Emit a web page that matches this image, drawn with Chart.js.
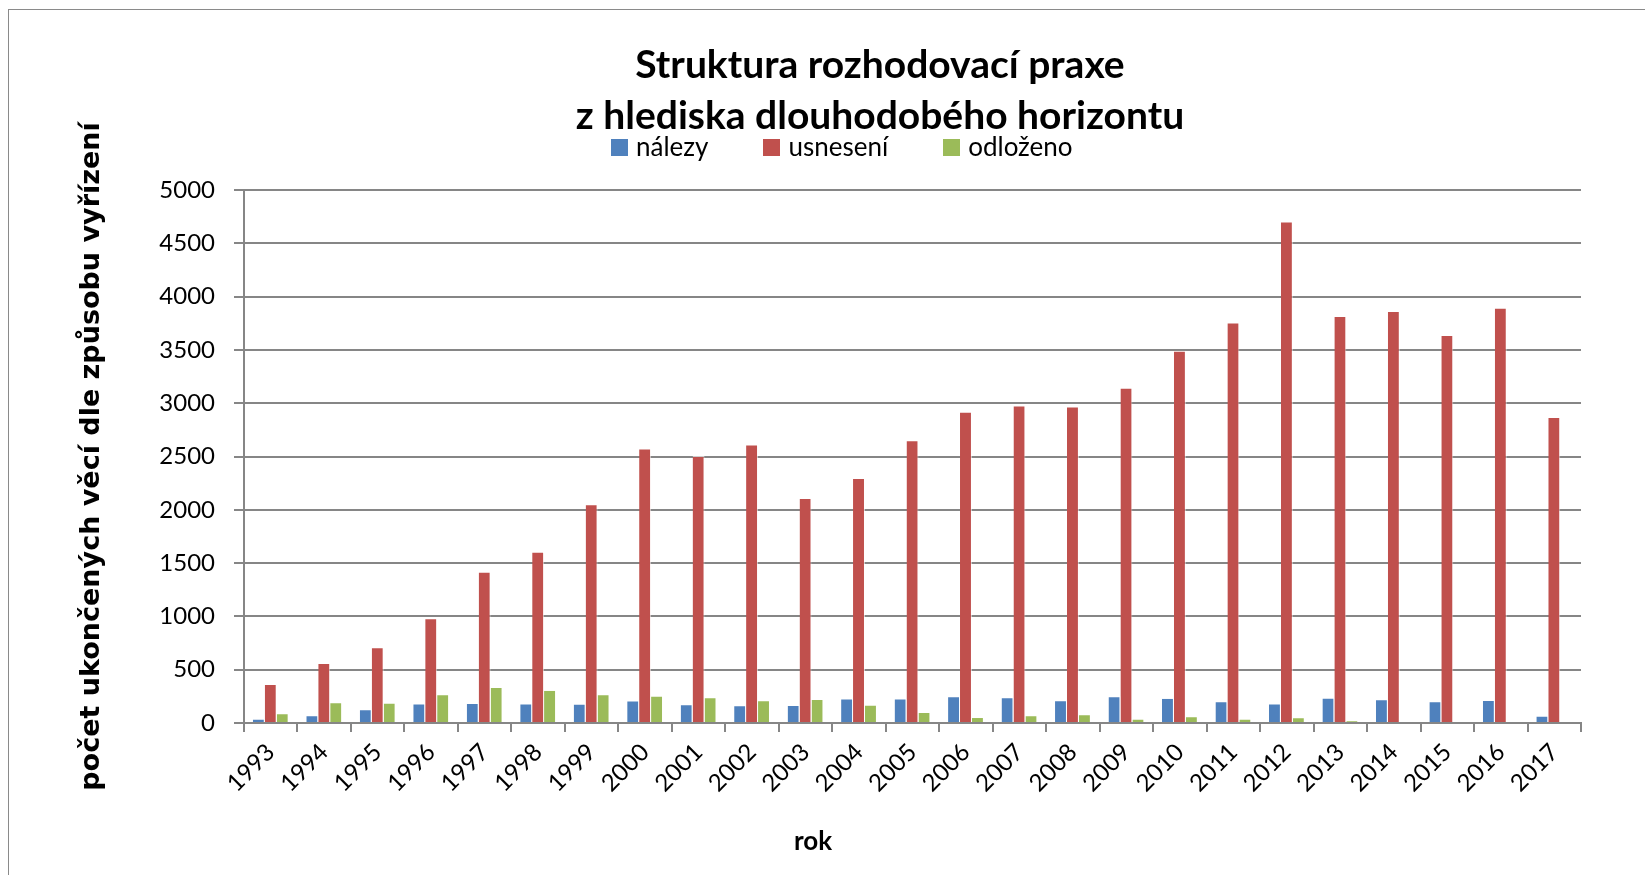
<!DOCTYPE html>
<html>
<head>
<meta charset="utf-8">
<script src="https://cdn.jsdelivr.net/npm/chart.js@4/dist/chart.umd.min.js"></script>
<style>
  html, body { margin: 0; padding: 0; background: #fff; overflow: hidden; }
  #wrap { position: relative; width: 1645px; height: 875px; font-family: Lato, "Open Sans", sans-serif; color: #000; }
  #frame { position: absolute; left: 8px; top: 9px; width: 1660px; height: 890px; border: 1px solid #8a8a8a; box-sizing: border-box; }
  canvas { position: absolute; left: 0; top: 0; }
  #title { position: absolute; left: 880px; top: 38px; transform: translateX(-50%); text-align: center; white-space: nowrap; font-size: 39px; font-weight: bold; line-height: 51px; }
  #legend { position: absolute; left: 611px; top: 132px; display: flex; gap: 55px; font-size: 26px; line-height: 28px; }
  #legend .item { display: flex; align-items: center; white-space: nowrap; }
  #legend .box { width: 17px; height: 17px; margin-right: 8px; margin-top: 3px; }
  #xtitle { position: absolute; left: 813px; top: 825px; transform: translateX(-50%); font-size: 26px; font-weight: bold; line-height: 30px; }
</style>
</head>
<body>
<div id="wrap">
  <div id="frame"></div>
  <canvas id="chart" width="1645" height="875"></canvas>
  <div id="title"></div>
  <div id="legend"></div>
  <div id="xtitle"></div>
</div>
<script>
const years = ['1993','1994','1995','1996','1997','1998','1999','2000','2001','2002','2003','2004','2005',
               '2006','2007','2008','2009','2010','2011','2012','2013','2014','2015','2016','2017'];
const nalezy   = [41, 72, 128, 184, 188, 184, 181, 210, 175, 166, 169, 231, 231,
                  250, 241, 213, 250, 235, 203, 184, 238, 222, 203, 216, 69];
const usneseni = [366, 563, 710, 982, 1420, 1607, 2051, 2574, 2505, 2613, 2110, 2298, 2653,
                  2919, 2978, 2968, 3146, 3491, 3757, 4704, 3817, 3866, 3639, 3895, 2870];
const odlozeno = [91, 194, 191, 269, 338, 310, 269, 256, 241, 213, 225, 172, 103,
                  56, 72, 81, 41, 63, 41, 53, 25, 0, 10, 0, 0];
const seriesNames = ['nálezy', 'usnesení', 'odloženo'];
const seriesColors = ['#4F81BD', '#C0504D', '#9BBB59'];
const titleLines = ['Struktura rozhodovací praxe', 'z hlediska dlouhodobého horizontu'];
const yTitle = 'počet ukončených věcí dle způsobu vyřízení';
const xTitle = 'rok';

const FONT = 'Lato, "Open Sans", sans-serif';

function makeDataset(i, data) {
  return {
    label: seriesNames[i],
    data: data,
    backgroundColor: seriesColors[i],
    borderColor: 'rgba(255,255,255,0.6)',
    borderWidth: { top: 1, left: 0, right: 1, bottom: 0 },
    categoryPercentage: 0.67,
    barPercentage: 1.0
  };
}

function renderTexts() {
  document.getElementById('title').innerHTML = titleLines.join('<br>');
  document.getElementById('xtitle').textContent = xTitle;
  document.getElementById('legend').innerHTML = seriesNames.map((name, i) => `
    <div class="item"><span class="box" style="background:${seriesColors[i]}"></span><span>${name}</span></div>
  `).join('');
}

function renderChart() {
  const ctx = document.getElementById('chart').getContext('2d');
  new Chart(ctx, {
    type: 'bar',
    data: {
      labels: years,
      datasets: [makeDataset(0, nalezy), makeDataset(1, usneseni), makeDataset(2, odlozeno)]
    },
    options: {
      responsive: false,
      animation: false,
      layout: { padding: { top: 190, left: 76, right: 64, bottom: 21 } },
      plugins: {
        title: { display: false },
        legend: { display: false },
        tooltip: { enabled: false }
      },
      scales: {
        x: {
          afterFit: scale => { scale.height = 131; },
          grid: { display: true, drawOnChartArea: false, offset: true, color: '#868686', lineWidth: 2, tickLength: 9 },
          border: { display: true, color: '#868686', width: 2 },
          ticks: { color: '#000', font: { family: FONT, size: 24 }, maxRotation: 45, minRotation: 45, padding: 6 }
        },
        y: {
          min: 0,
          max: 5000,
          afterFit: scale => { scale.width = 168; },
          ticks: { stepSize: 500, color: '#000', font: { family: FONT, size: 24 }, padding: 19, callback: v => String(v) },
          grid: { color: '#868686', lineWidth: 2, tickLength: 10 },
          border: { display: true, color: '#868686', width: 2 },
          title: { display: true, text: yTitle, color: '#000', font: { family: '"DejaVu Sans", sans-serif', size: 27, weight: 'bold' }, padding: 0 }
        }
      }
    }
  });
}

document.addEventListener('DOMContentLoaded', () => {
  renderTexts();
  renderChart();
});
</script>
</body>
</html>
